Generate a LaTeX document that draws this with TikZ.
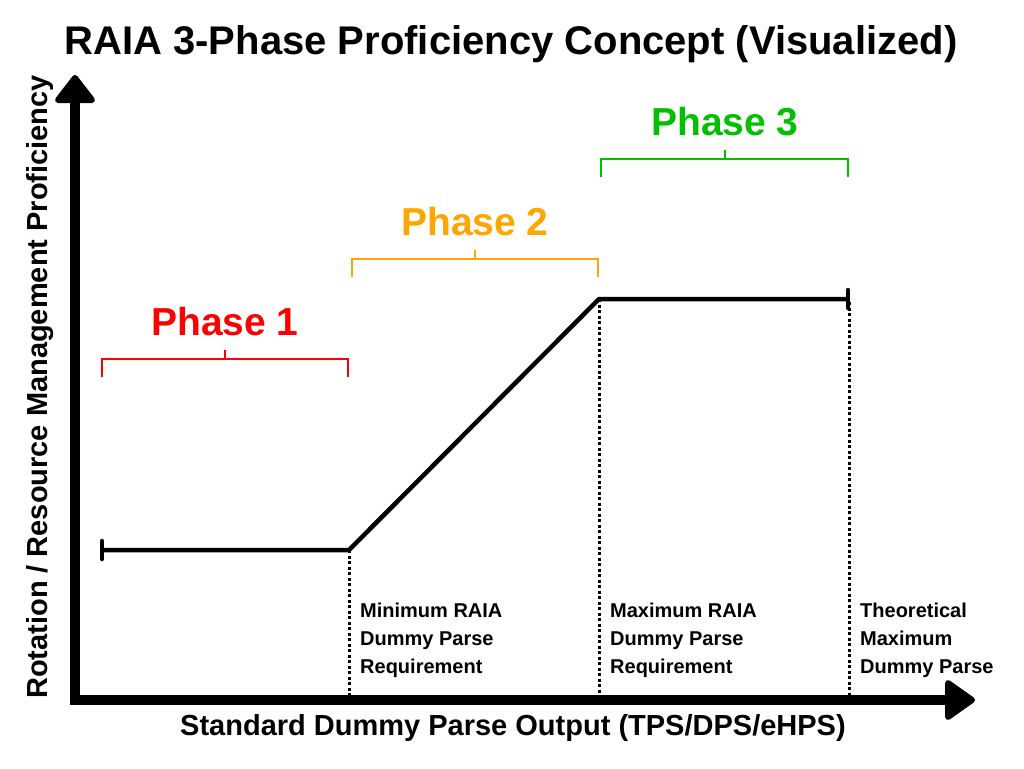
\documentclass[tikz,border=0pt]{standalone}
\usepackage{fontspec}
\setmainfont{Liberation Sans}
\definecolor{phred}{RGB}{255,0,0}
\definecolor{phorange}{RGB}{255,165,0}
\definecolor{phgreen}{RGB}{0,192,0}
\tikzset{
  axisline/.style={line width=10pt},
  axishead/.style={fill=black,draw=black,line width=6pt,line join=round},
  curveline/.style={line width=4.5pt,line join=round},
  endtick/.style={line width=4.5pt,line cap=round},
  guide/.style={line width=3pt,dash pattern=on 3pt off 2.5pt},
  bracketline/.style={line width=2pt},
  phaselabel/.style={font=\fontsize{39}{44}\selectfont\bfseries,inner sep=0pt,anchor=base},
  annot/.style={font=\fontsize{20}{28}\selectfont\bfseries,inner sep=0pt,anchor=north west,align=left},
  axislabel/.style={font=\fontsize{29}{34}\selectfont\bfseries,inner sep=0pt,anchor=base},
}
\begin{document}
\begin{tikzpicture}[x=1pt,y=-1pt]
\useasboundingbox[fill=white] (0,0) rectangle (1024,768);
% title
\node[font=\fontsize{40}{46}\selectfont\bfseries,inner sep=0pt,anchor=base] (title) at (511,55) {RAIA 3-Phase Proficiency Concept (Visualized)};
% axes
\coordinate (origin) at (75,700);
\coordinate (ytop) at (75,100);
\coordinate (xend) at (948,700);
\draw[axisline] (70,700) -- (xend);
\draw[axisline] (75,705) -- (ytop);
\filldraw[axishead] (75,78) -- (58,100) -- (92,100) -- cycle;
\filldraw[axishead] (972,700) -- (948,683) -- (948,717) -- cycle;
% axis labels
\node[axislabel] (xlabel) at (513,735) {Standard Dummy Parse Output (TPS/DPS/eHPS)};
\node[axislabel,rotate=90] (ylabel) at (47,387) {Rotation / Resource Management Proficiency};
% curve
\coordinate (p0) at (102,550);
\coordinate (p1) at (349,550);
\coordinate (p2) at (599,299);
\coordinate (p3) at (848,299);
\draw[curveline] (p0) -- (p1) -- (p2) -- (p3);
\draw[endtick] (102,541) -- (102,559);
\draw[endtick] (848,290) -- (848,308);
% guides
\coordinate (g1) at (349,695);
\coordinate (g2) at (599,695);
\coordinate (g3) at (849,695);
\coordinate (g3t) at (849,302);
\draw[guide] (p1) -- (g1);
\draw[guide] (p2) -- (g2);
\draw[guide] (g3t) -- (g3);
% annotations
\node[annot] (a1) at (360,603) {Minimum RAIA\\Dummy Parse\\Requirement};
\node[annot] (a2) at (610,603) {Maximum RAIA\\Dummy Parse\\Requirement};
\node[annot] (a3) at (860,603) {Theoretical\\Maximum\\Dummy Parse};
% brackets
\draw[bracketline,phred] (102,377) -- (102,359) -- (348,359) -- (348,377);
\draw[bracketline,phred] (225,359) -- (225,350);
\draw[bracketline,phorange] (352,277) -- (352,259) -- (598,259) -- (598,277);
\draw[bracketline,phorange] (475,259) -- (475,250);
\draw[bracketline,phgreen] (601,177) -- (601,159) -- (848,159) -- (848,177);
\draw[bracketline,phgreen] (725,159) -- (725,150);
% phase labels
\node[phaselabel,text=phred] (ph1) at (225,335) {Phase 1};
\node[phaselabel,text=phorange] (ph2) at (475,235) {Phase 2};
\node[phaselabel,text=phgreen] (ph3) at (725,135) {Phase 3};
\end{tikzpicture}
\end{document}
